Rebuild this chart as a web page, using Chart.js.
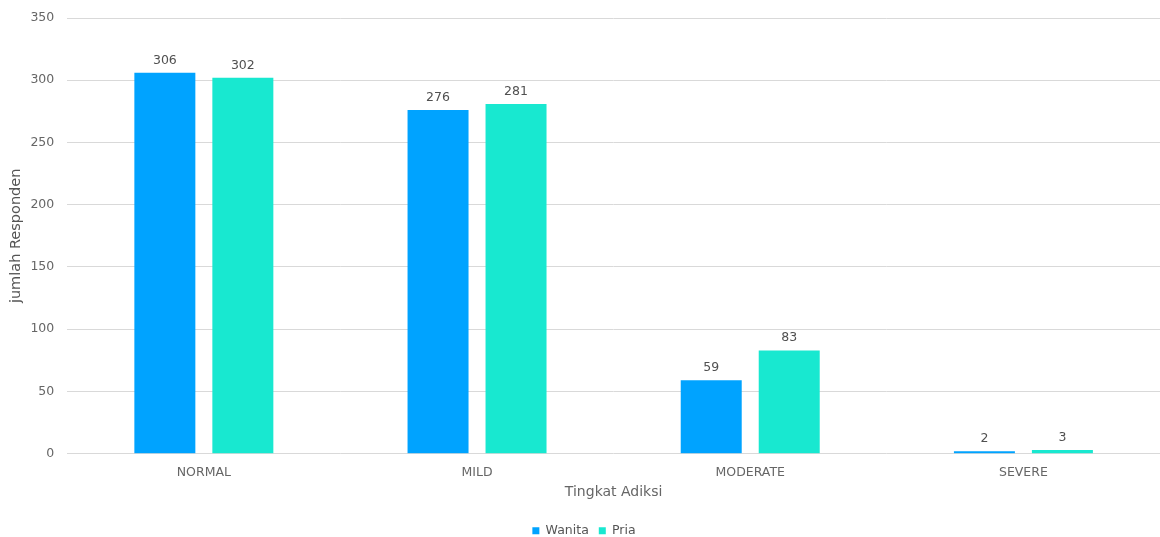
<!DOCTYPE html>
<html>
<head>
<meta charset="utf-8">
<script src="https://cdn.jsdelivr.net/npm/chart.js@4"></script>
<style>
  html, body { margin: 0; padding: 0; background: #ffffff; }
  #wrap { width: 1160px; height: 537px; position: relative; }
</style>
</head>
<body>
<div id="wrap"><canvas id="chart"></canvas></div>
<script>
// Tingkat adiksi per jenis kelamin
const categories = ['NORMAL', 'MILD', 'MODERATE', 'SEVERE'];
const wanita = [306, 276, 59, 2];
const pria = [302, 281, 83, 3];
const seriesNames = ['Wanita', 'Pria'];
const yTicks = [0, 50, 100, 150, 200, 250, 300, 350];

const FONT = "'DejaVu Sans', Verdana, sans-serif";

// Draw the value above each bar
const valueLabels = {
  id: 'valueLabels',
  afterDatasetsDraw(chart) {
    const ctx = chart.ctx;
    ctx.save();
    ctx.font = '12.5px ' + FONT;
    ctx.fillStyle = '#505050';
    ctx.textAlign = 'center';
    ctx.textBaseline = 'bottom';
    chart.data.datasets.forEach((ds, i) => {
      const meta = chart.getDatasetMeta(i);
      meta.data.forEach((bar, j) => {
        ctx.fillText(String(ds.data[j]), bar.x, bar.y - 6);
      });
    });
    ctx.restore();
  }
};

new Chart(document.getElementById('chart'), {
  type: 'bar',
  data: {
    labels: categories,
    datasets: [
      { label: seriesNames[0], data: wanita, backgroundColor: '#00a3ff', borderWidth: 0 },
      { label: seriesNames[1], data: pria, backgroundColor: '#18e8d0', borderWidth: 0 }
    ]
  },
  options: {
    responsive: true,
    maintainAspectRatio: false,
    animation: false,
    layout: { padding: { top: 0, right: 0, bottom: -10, left: 8 } },
    categoryPercentage: 0.571,
    barPercentage: 0.782,
    plugins: {
      legend: {
        position: 'bottom',
        labels: {
          font: { family: FONT, size: 12.5 },
          color: '#555555',
          boxWidth: 7,
          boxHeight: 7,
          padding: 10
        }
      },
      tooltip: { enabled: false }
    },
    scales: {
      x: {
        grid: { display: false },
        border: { display: false },
        ticks: { font: { family: FONT, size: 12.5 }, color: '#666666', padding: 4 },
        title: { display: true, text: 'Tingkat Adiksi', font: { family: FONT, size: 14 }, color: '#666666', padding: { top: -1, bottom: 14 } }
      },
      y: {
        min: 0,
        max: 350,
        afterBuildTicks(axis) { axis.ticks = yTicks.map(v => ({ value: v })); },
        grid: { color: '#d9d9d9', lineWidth: 1, drawTicks: false },
        border: { display: false },
        ticks: { font: { family: FONT, size: 12.5, lineHeight: 0.8 }, color: '#666666', padding: 13 },
        title: { display: true, text: 'jumlah Responden', font: { family: FONT, size: 14.5 }, color: '#555555', padding: { top: 0, bottom: -8 } }
      }
    }
  },
  plugins: [valueLabels]
});
</script>
</body>
</html>
